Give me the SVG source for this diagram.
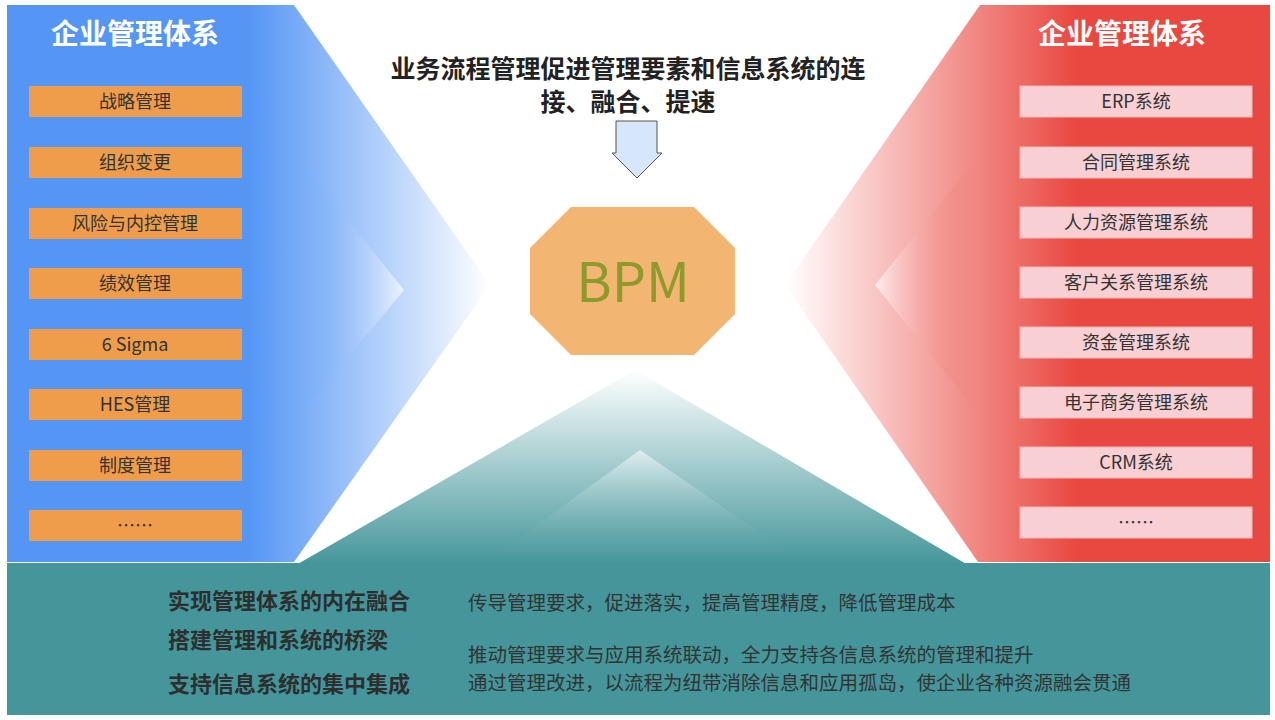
<svg xmlns="http://www.w3.org/2000/svg" width="1275" height="720" viewBox="0 0 1275 720">
<style>
text{font-family:"Noto Sans CJK SC","Noto Sans",sans-serif}
.t{fill:#fff;font-size:28px;font-weight:bold;text-anchor:middle}
.lb{fill:#ef9d4a}
.rb{fill:#f8cfd2;stroke:#eeb8bc;stroke-width:1}
.bt{fill:#333;font-size:18px;text-anchor:middle}
.h{fill:#222;font-size:25px;font-weight:bold;text-anchor:middle}
.bl{fill:#2e2e2e;font-size:22px;font-weight:bold}
.br{fill:#333;font-size:19.5px}
</style>
<defs>
<linearGradient id="gb" x1="0" y1="0" x2="1" y2="0"><stop offset="0.5" stop-color="#5596f5"/><stop offset="1" stop-color="#5596f5" stop-opacity="0"/></linearGradient>
<linearGradient id="gbi" x1="0" y1="0" x2="1" y2="0"><stop offset="0" stop-color="#5596f5" stop-opacity="0"/><stop offset="1" stop-color="#fff"/></linearGradient>
<linearGradient id="gr" x1="1" y1="0" x2="0" y2="0"><stop offset="0.4" stop-color="#e94840"/><stop offset="1" stop-color="#e94840" stop-opacity="0"/></linearGradient>
<linearGradient id="gri" x1="1" y1="0" x2="0" y2="0"><stop offset="0" stop-color="#e94840" stop-opacity="0"/><stop offset="1" stop-color="#fff"/></linearGradient>
<linearGradient id="gt" x1="0" y1="1" x2="0" y2="0"><stop offset="0" stop-color="#44969a"/><stop offset="1" stop-color="#44969a" stop-opacity="0"/></linearGradient>
<linearGradient id="gti" x1="0" y1="1" x2="0" y2="0"><stop offset="0" stop-color="#44969a" stop-opacity="0"/><stop offset="1" stop-color="#fff"/></linearGradient>
</defs>
<rect width="1275" height="720" fill="#fff"/>
<g id="left-panel">
<polygon points="7,5 294,5 490,285 294,562 7,562" fill="url(#gb)"/>
<polygon points="302,163 404,290 302,412" fill="url(#gbi)" opacity="0.7"/>
<text class="t" x="135" y="44">企业管理体系</text>
</g>
<g id="right-panel">
<polygon points="1270,5 980,5 785,285 978,562 1270,562" fill="url(#gr)"/>
<polygon points="975,160 875,285 975,410" fill="url(#gri)" opacity="0.7"/>
<text class="t" x="1122" y="44">企业管理体系</text>
</g>
<g id="mountain">
<polygon points="296,565 635,370 968,565" fill="url(#gt)"/>
<polygon points="482,565 640,450 807,565" fill="url(#gti)" opacity="0.6"/>
</g>
<rect x="7" y="563" width="1263" height="152" fill="#44969a"/>
<g id="left-items">
<g id="l1"><rect class="lb" x="29" y="86" width="213" height="31"/><text class="bt" x="135" y="108">战略管理</text></g>
<g id="l2"><rect class="lb" x="29" y="147" width="213" height="31"/><text class="bt" x="135" y="169">组织变更</text></g>
<g id="l3"><rect class="lb" x="29" y="208" width="213" height="31"/><text class="bt" x="135" y="230">风险与内控管理</text></g>
<g id="l4"><rect class="lb" x="29" y="268" width="213" height="31"/><text class="bt" x="135" y="290">绩效管理</text></g>
<g id="l5"><rect class="lb" x="29" y="329" width="213" height="31"/><text class="bt" x="135" y="351">6 Sigma</text></g>
<g id="l6"><rect class="lb" x="29" y="389" width="213" height="31"/><text class="bt" x="135" y="411">HES管理</text></g>
<g id="l7"><rect class="lb" x="29" y="450" width="213" height="31"/><text class="bt" x="135" y="472">制度管理</text></g>
<g id="l8"><rect class="lb" x="29" y="510" width="213" height="31"/><text class="bt" x="135" y="532">……</text></g>
</g>
<g id="right-items">
<g id="r1"><rect class="rb" x="1020" y="86" width="232" height="31"/><text class="bt" x="1136" y="108">ERP系统</text></g>
<g id="r2"><rect class="rb" x="1020" y="147" width="232" height="31"/><text class="bt" x="1136" y="169">合同管理系统</text></g>
<g id="r3"><rect class="rb" x="1020" y="207" width="232" height="31"/><text class="bt" x="1136" y="229">人力资源管理系统</text></g>
<g id="r4"><rect class="rb" x="1020" y="267" width="232" height="31"/><text class="bt" x="1136" y="289">客户关系管理系统</text></g>
<g id="r5"><rect class="rb" x="1020" y="327" width="232" height="31"/><text class="bt" x="1136" y="349">资金管理系统</text></g>
<g id="r6"><rect class="rb" x="1020" y="387" width="232" height="31"/><text class="bt" x="1136" y="409">电子商务管理系统</text></g>
<g id="r7"><rect class="rb" x="1020" y="447" width="232" height="31"/><text class="bt" x="1136" y="469">CRM系统</text></g>
<g id="r8"><rect class="rb" x="1020" y="507" width="232" height="31"/><text class="bt" x="1136" y="529">……</text></g>
</g>
<g id="headline">
<text class="h" x="628" y="78">业务流程管理促进管理要素和信息系统的连</text>
<text class="h" x="628" y="111">接、融合、提速</text>
</g>
<g id="connectors">
<polygon points="616,121 657,121 657,153 662,153 637,178 612,153 616,153" fill="#d6e6fb" stroke="#555" stroke-width="1"/>
</g>
<g id="bpm">
<polygon points="571,207 694,207 735,248 735,314 694,355 571,355 530,314 530,248" fill="#f2b672"/>
<text x="633" y="302" font-size="54" fill="#8e9a2c" text-anchor="middle" font-family="'Open Sans','Noto Sans',sans-serif">BPM</text>
</g>
<g id="bottom-text">
<text class="bl" x="168" y="609">实现管理体系的内在融合</text>
<text class="bl" x="168" y="648">搭建管理和系统的桥梁</text>
<text class="bl" x="168" y="692">支持信息系统的集中集成</text>
<text class="br" x="468" y="610">传导管理要求，促进落实，提高管理精度，降低管理成本</text>
<text class="br" x="468" y="662">推动管理要求与应用系统联动，全力支持各信息系统的管理和提升</text>
<text class="br" x="468" y="690">通过管理改进，以流程为纽带消除信息和应用孤岛，使企业各种资源融会贯通</text>
</g>
</svg>
